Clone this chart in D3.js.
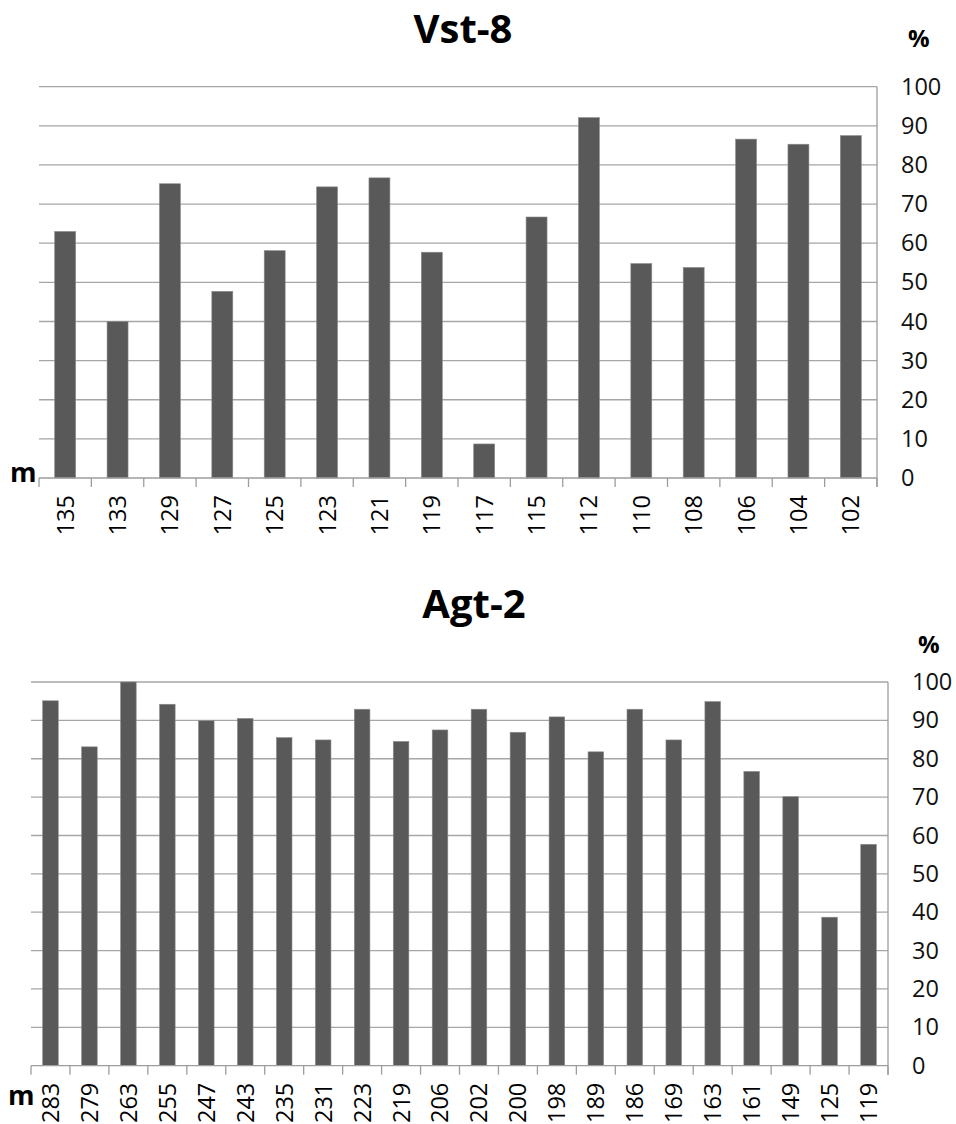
<!DOCTYPE html>
<html>
<head>
<meta charset="utf-8">
<script src="https://cdn.jsdelivr.net/npm/d3@7"></script>
<style>
  body { margin: 0; background: #fff; }
  svg { display: block; font-family: "Open Sans", sans-serif; }
</style>
</head>
<body>
<svg width="956" height="1124"></svg>
<script>
// depth (m) and percentage values
var vstDepth = ["135","133","129","127","125","123","121","119","117","115","112","110","108","106","104","102"]
var vstValues = [63, 40, 75.2, 47.7, 58.1, 74.4, 76.7, 57.7, 8.7, 66.7, 92.1, 54.8, 53.8, 86.6, 85.3, 87.5]

var agtDepth = ["283","279","263","255","247","243","235","231","223","219","206","202","200","198","189","186","169","163","161","149","125","119"]
var agtValues = [95.1, 83.1, 100, 94.2, 89.9, 90.5, 85.5, 84.9, 92.9, 84.5, 87.5, 92.9, 86.9, 90.9, 81.8, 92.9, 84.9, 94.9, 76.7, 70.1, 38.7, 57.7]

var yTicks = [0, 10, 20, 30, 40, 50, 60, 70, 80, 90, 100]

const svg = d3.select("svg")

function drawChart(opt) {
  var x = d3.scaleBand()
    .domain(opt.cats)
    .range([opt.left, opt.right])
    .paddingInner(0.6)
    .paddingOuter(0.3)

  var y = d3.scaleLinear()
    .domain([0, 100])
    .range([opt.bottom, opt.top])

  var g = svg.append("g")

  // title
  g.append("text")
    .attr("x", opt.titleX)
    .attr("y", opt.titleY)
    .attr("text-anchor", "middle")
    .attr("font-size", 40)
    .attr("font-weight", "bold")
    .attr("fill", "#000")
    .text(opt.title)

  // gridlines
  g.append("g").selectAll("line")
    .data(yTicks.filter(d => d > 0))
    .enter().append("line")
      .attr("x1", opt.left)
      .attr("x2", opt.right)
      .attr("y1", d => y(d))
      .attr("y2", d => y(d))
      .attr("stroke", "#a6a6a6")
      .attr("stroke-width", 1.3)

  // bars
  g.append("g").selectAll("rect")
    .data(opt.values)
    .enter().append("rect")
      .attr("x", (d, i) => x(opt.cats[i]))
      .attr("y", d => y(d))
      .attr("width", x.bandwidth())
      .attr("height", d => y(0) - y(d))
      .attr("fill", "#595959")
      .attr("stroke", "#8a8a8a")
      .attr("stroke-width", 0.6)

  // x axis: baseline + ticks at band edges
  var edges = opt.cats.map(c => x(c) - x.step() * x.paddingInner() / 2)
  edges.push(opt.right)
  edges[0] = opt.left
  g.append("line")
    .attr("x1", opt.left).attr("x2", opt.right)
    .attr("y1", y(0)).attr("y2", y(0))
    .attr("stroke", "#9d9d9d").attr("stroke-width", 1.3)
  g.append("g").selectAll("line")
    .data(edges)
    .enter().append("line")
      .attr("x1", d => d).attr("x2", d => d)
      .attr("y1", y(0)).attr("y2", y(0) + 9)
      .attr("stroke", "#9d9d9d").attr("stroke-width", 1.3)

  // x tick labels, rotated
  g.append("g").selectAll("text")
    .data(opt.cats)
    .enter().append("text")
      .attr("transform", d => "translate(" + (x(d) + x.bandwidth() / 2) + "," + (y(0) + 17) + ") rotate(-90)")
      .attr("text-anchor", "end")
      .attr("dy", "0.36em")
      .attr("font-size", 23.5)
      .attr("fill", "#000")
      .text(d => d)

  // right y axis
  var yAxis = d3.axisRight(y)
    .tickValues(yTicks)
    .tickSize(0)
    .tickPadding(24)
  var ga = g.append("g")
    .attr("transform", "translate(" + opt.right + ",0)")
    .call(yAxis)
  ga.select(".domain")
    .attr("stroke", "#9d9d9d").attr("stroke-width", 1.3)
    .attr("d", "M0," + y(100) + "V" + (y(0) + 9))
  ga.selectAll("text")
    .attr("font-size", 23.5)
    .attr("font-family", "Open Sans, sans-serif")
    .attr("fill", "#111")

  // unit labels
  g.append("text")
    .attr("x", opt.pctX).attr("y", opt.pctY)
    .attr("font-size", 24).attr("font-weight", "bold")
    .text("%")
  g.append("text")
    .attr("x", opt.mX).attr("y", opt.mY)
    .attr("font-size", 27).attr("font-weight", "bold")
    .text("m")
}

drawChart({
  title: "Vst-8", titleX: 463, titleY: 43,
  cats: vstDepth, values: vstValues,
  left: 39, right: 877, top: 86.7, bottom: 478,
  pctX: 908, pctY: 47, mX: 10, mY: 482
})

drawChart({
  title: "Agt-2", titleX: 474, titleY: 618,
  cats: agtDepth, values: agtValues,
  left: 31, right: 888, top: 682, bottom: 1065.7,
  pctX: 918, pctY: 653, mX: 8, mY: 1105
})
</script>
</body>
</html>
